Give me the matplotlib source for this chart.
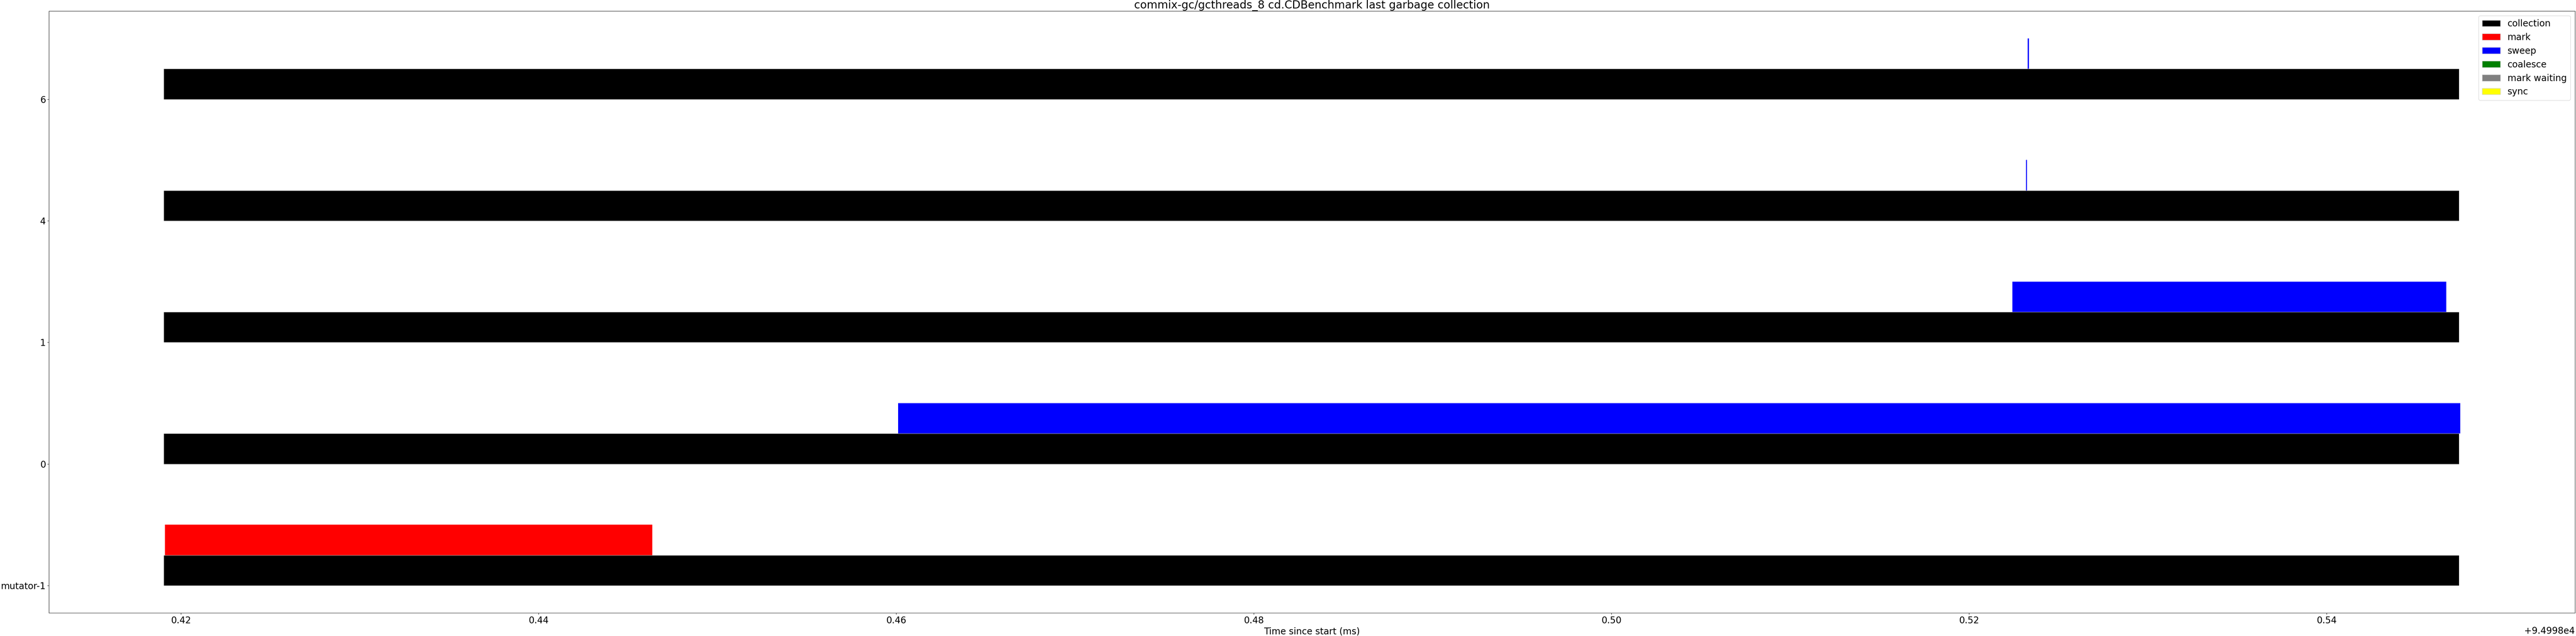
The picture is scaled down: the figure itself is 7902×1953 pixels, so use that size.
import matplotlib
matplotlib.use("Agg")
import matplotlib.pyplot as plt
from matplotlib.patches import Patch

BASE = 94998.0

threads = ["mutator-1", "0", "1", "4", "6"]

# collection (start, end) per thread, in ms since start
collection_start = [BASE + 0.419036, BASE + 0.419036, BASE + 0.419036, BASE + 0.419036, BASE + 0.419036]
collection_end = [BASE + 0.547391, BASE + 0.547391, BASE + 0.547391, BASE + 0.547391, BASE + 0.547391]

# phases: (thread index, phase, start, end)
phase_thread = [0, 1, 2, 3, 4]
phase_name = ["mark", "sweep", "sweep", "sweep", "sweep"]
phase_start = [BASE + 0.419096, BASE + 0.460105, BASE + 0.522422, BASE + 0.523190, BASE + 0.523278]
phase_end = [BASE + 0.446359, BASE + 0.547464, BASE + 0.546680, BASE + 0.523250, BASE + 0.523345]

legend_names = ["collection", "mark", "sweep", "coalesce", "mark waiting", "sync"]
legend_colors = ["black", "red", "blue", "green", "grey", "yellow"]
color_of = dict(zip(legend_names, legend_colors))

fig = plt.figure(figsize=(79.02, 19.53), dpi=100)
ax = fig.add_axes([0.0190, 0.0364, 0.9806, 0.9462])

for i in range(len(threads)):
    ax.broken_barh([(collection_start[i], collection_end[i] - collection_start[i])],
                   (i, 0.25), facecolors=color_of["collection"],
                   edgecolor="white", linewidth=0.4)

for t, name, s, e in zip(phase_thread, phase_name, phase_start, phase_end):
    ax.broken_barh([(s, e - s)], (t + 0.25, 0.25), facecolors=color_of[name],
                   edgecolor="white", linewidth=0.0)

ax.set_yticks(range(len(threads)))
ax.set_yticklabels(threads)
ax.tick_params(labelsize=20)
ax.xaxis.get_offset_text().set_fontsize(20)
ax.set_xlabel("Time since start (ms)", fontsize=20)
ax.set_title("commix-gc/gcthreads_8 cd.CDBenchmark last garbage collection", fontsize=24)

handles = [Patch(facecolor=c, edgecolor="lightgrey", label=n) for n, c in zip(legend_names, legend_colors)]
ax.legend(handles=handles, loc="upper right", fontsize=20)

fig.savefig("out.png", dpi=100)
